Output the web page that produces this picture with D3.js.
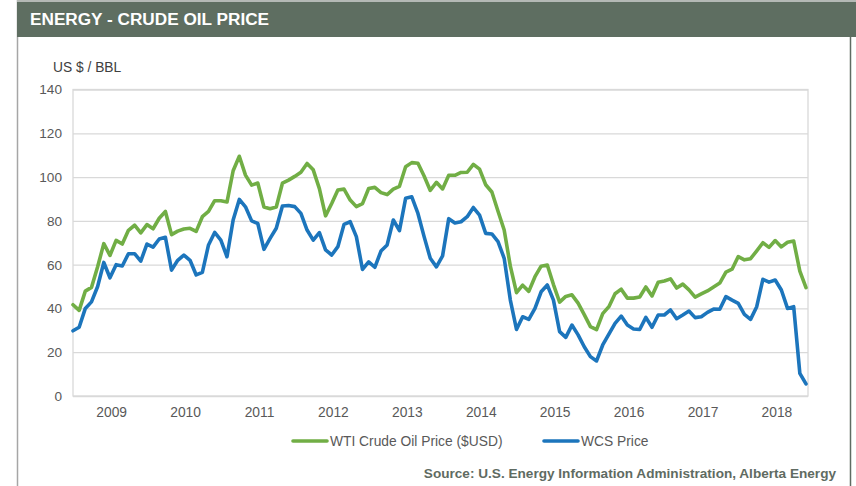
<!DOCTYPE html>
<html>
<head>
<meta charset="utf-8">
<script src="https://cdn.jsdelivr.net/npm/d3@7"></script>
<style>
  body { margin: 0; background: #fff; }
  svg { display: block; font-family: "Liberation Sans", Arial, sans-serif; }
</style>
</head>
<body>
<svg id="chart" width="856" height="486"></svg>
<script>
// monthly averages, Jan 2009 - Dec 2018
const years = [2009, 2010, 2011, 2012, 2013, 2014, 2015, 2016, 2017, 2018];
const yTicks = [0, 20, 40, 60, 80, 100, 120, 140];

const wti = [
  41.7, 39.1, 47.9, 49.6, 59.0, 69.6, 64.2, 71.1, 69.4, 75.7, 78.0, 74.5,
  78.3, 76.4, 81.2, 84.3, 73.7, 75.3, 76.3, 76.6, 75.2, 81.9, 84.3, 89.2,
  89.2, 88.6, 102.9, 109.5, 100.9, 96.3, 97.3, 86.3, 85.5, 86.3, 97.2, 98.6,
  100.3, 102.2, 106.2, 103.3, 94.7, 82.3, 87.9, 94.1, 94.5, 89.5, 86.5, 87.9,
  94.8, 95.3, 92.9, 92.0, 94.5, 95.8, 104.7, 106.6, 106.3, 100.5, 93.9, 97.6,
  94.6, 100.8, 100.8, 102.1, 102.2, 105.8, 103.6, 96.5, 93.2, 84.4, 75.8, 59.3,
  47.2, 50.6, 47.8, 54.5, 59.3, 59.8, 50.9, 42.9, 45.5, 46.2, 42.4, 37.2,
  31.7, 30.3, 37.6, 40.8, 46.7, 48.8, 44.7, 44.7, 45.2, 49.8, 45.7, 52.0,
  52.5, 53.5, 49.3, 51.1, 48.5, 45.2, 46.6, 48.0, 49.8, 51.6, 56.6, 57.9,
  63.7, 62.2, 62.7, 66.3, 70.0, 67.9, 71.0, 68.1, 70.2, 70.8, 57.0, 49.5
];

const wcs = [
  29.8, 31.4, 40.0, 43.0, 50.0, 61.0, 54.0, 60.0, 59.4, 65.0, 65.0, 61.6,
  69.4, 68.0, 71.7, 72.5, 57.5, 62.0, 64.4, 62.0, 55.3, 56.5, 69.0, 74.7,
  71.2, 63.6, 80.4, 89.8, 86.4, 80.0, 78.8, 67.0, 72.0, 76.6, 86.8, 87.0,
  86.5, 83.4, 75.8, 71.2, 74.6, 66.7, 64.4, 68.2, 78.4, 79.6, 72.8, 57.8,
  61.3, 58.8, 66.2, 69.0, 80.4, 75.5, 90.3, 91.0, 83.4, 72.8, 62.9, 59.0,
  64.0, 81.0, 79.0, 79.6, 81.9, 86.1, 82.6, 74.3, 74.0, 70.5, 62.9, 43.8,
  30.4, 36.2, 35.0, 40.0, 47.6, 50.7, 43.8, 29.4, 26.8, 32.4, 27.9, 22.5,
  18.0, 16.0, 23.3, 28.3, 33.2, 36.5, 32.4, 30.6, 30.4, 35.9, 31.4, 37.0,
  37.0, 39.3, 35.3, 37.0, 38.8, 35.8, 36.2, 38.2, 39.7, 39.6, 45.4, 43.8,
  42.3, 37.3, 35.0, 40.8, 53.3, 52.0, 53.0, 48.4, 40.0, 40.8, 10.3, 5.5
];

const seriesNames = ["WTI Crude Oil Price ($USD)", "WCS Price"];
const seriesColors = ["#71ae45", "#1c75bc"];

const svg = d3.select("#chart");

// panel frame + header
svg.append("line")
  .attr("x1", 17.5).attr("x2", 17.5)
  .attr("y1", 0).attr("y2", 486)
  .attr("stroke", "#a6a6a6")
  .attr("stroke-width", 1.5);

svg.append("line")
  .attr("x1", 850.5).attr("x2", 850.5)
  .attr("y1", 30).attr("y2", 486)
  .attr("stroke", "#5f6b62")
  .attr("stroke-width", 1.5);

svg.append("rect")
  .attr("x", 17)
  .attr("y", 0)
  .attr("width", 839)
  .attr("height", 2)
  .attr("fill", "#b4b9b5");

svg.append("rect")
  .attr("x", 17)
  .attr("y", 2)
  .attr("width", 839)
  .attr("height", 35)
  .attr("fill", "#5e6e61");

svg.append("text")
  .attr("x", 30)
  .attr("y", 25)
  .attr("fill", "#fff")
  .attr("font-size", 17.2)
  .attr("font-weight", "bold")
  .text("ENERGY - CRUDE OIL PRICE");

// plot area
const plot = { left: 73, right: 808, top: 89.5, bottom: 396 };

const x = d3.scaleLinear()
  .domain([0, wti.length - 1])
  .range([plot.left, 806]);

const y = d3.scaleLinear()
  .domain([0, 140])
  .range([plot.bottom, plot.top]);

// gridlines
const yAxis = svg.append("g")
  .attr("transform", "translate(" + plot.left + ",0)")
  .call(d3.axisLeft(y).tickValues(yTicks).tickSize(-(plot.right - plot.left)).tickPadding(11));

yAxis.select(".domain").remove();
yAxis.selectAll(".tick line")
  .attr("stroke", "#d9d9d9")
  .attr("stroke-width", 1.3);
yAxis.selectAll(".tick text")
  .attr("fill", "#595959")
  .attr("font-size", 13.6)
  .attr("font-family", "Liberation Sans, Arial, sans-serif");

// box around plot
svg.append("rect")
  .attr("x", plot.left)
  .attr("y", plot.top)
  .attr("width", plot.right - plot.left)
  .attr("height", plot.bottom - plot.top)
  .attr("fill", "none")
  .attr("stroke", "#d9d9d9")
  .attr("stroke-width", 1.3);

// year labels sit near the middle of each year
const xAxis = svg.append("g")
  .attr("transform", "translate(0," + plot.bottom + ")")
  .call(d3.axisBottom(x)
    .tickValues(years.map((yr, i) => i * 12 + 6.2))
    .tickFormat((d, i) => years[i])
    .tickSize(0)
    .tickPadding(11));

xAxis.select(".domain").remove();
xAxis.selectAll(".tick text")
  .attr("fill", "#595959")
  .attr("font-size", 13.8)
  .attr("font-family", "Liberation Sans, Arial, sans-serif");

svg.append("text")
  .attr("x", 53)
  .attr("y", 72)
  .attr("fill", "#404040")
  .attr("font-size", 13.8)
  .text("US $ / BBL");

// lines
const line = d3.line()
  .x((d, i) => x(i))
  .y(d => y(d));

[wti, wcs].forEach((s, k) => {
  svg.append("path")
    .datum(s)
    .attr("fill", "none")
    .attr("stroke", seriesColors[k])
    .attr("stroke-width", 3.6)
    .attr("stroke-linejoin", "round")
    .attr("stroke-linecap", "round")
    .attr("d", line);
});

// legend
const legendX = [293, 544];
seriesNames.forEach((name, k) => {
  const g = svg.append("g")
    .attr("transform", "translate(" + legendX[k] + ",441)");
  g.append("line")
    .attr("x1", 0).attr("x2", 34)
    .attr("stroke", seriesColors[k])
    .attr("stroke-width", 3.6)
    .attr("stroke-linecap", "round");
  g.append("text")
    .attr("x", 37)
    .attr("dy", "0.35em")
    .attr("fill", "#595959")
    .attr("font-size", 13.8)
    .text(name);
});

svg.append("text")
  .attr("x", 836)
  .attr("y", 478)
  .attr("text-anchor", "end")
  .attr("fill", "#5f6b62")
  .attr("font-size", 13.6)
  .attr("font-weight", "bold")
  .text("Source: U.S. Energy Information Administration, Alberta Energy");
</script>
</body>
</html>
